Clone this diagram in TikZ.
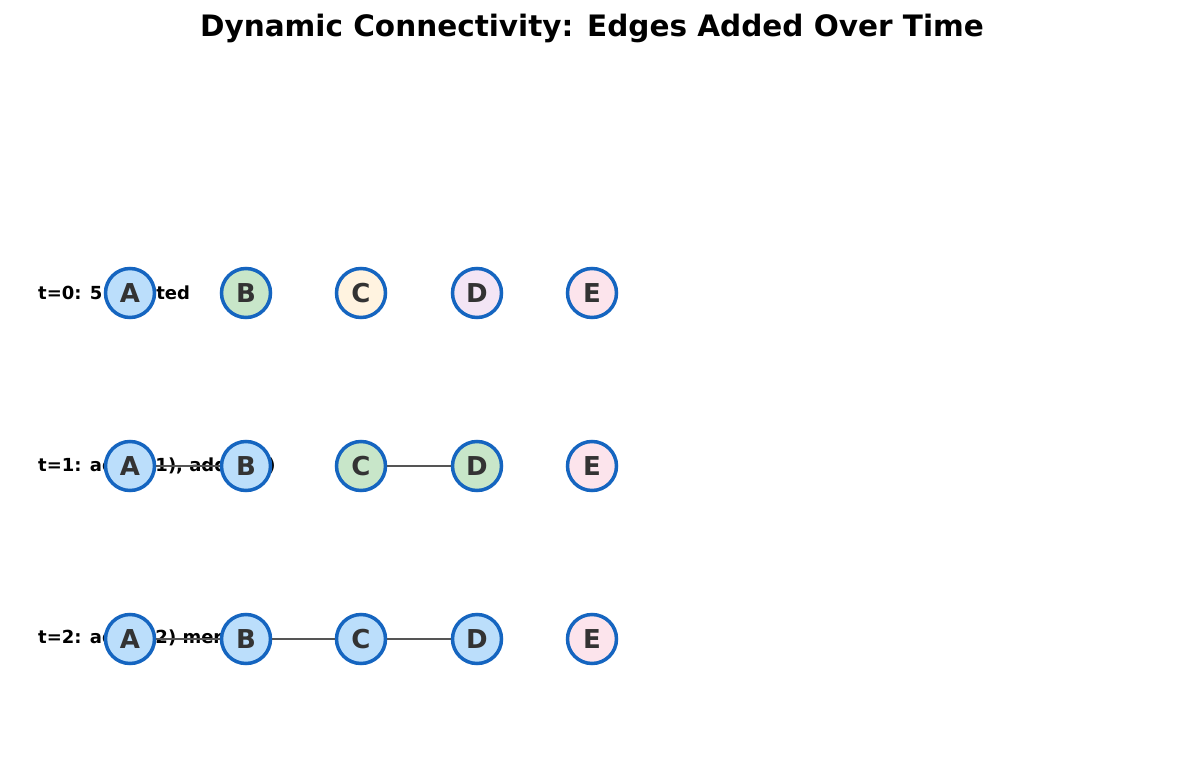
\documentclass[tikz,border=0pt]{standalone}
\usepackage{fontspec}
\setmainfont{DejaVu Sans}
\definecolor{bord}{HTML}{1565C0}
\definecolor{fb}{HTML}{BBDEFB}
\definecolor{fg}{HTML}{C8E6C9}
\definecolor{fy}{HTML}{FFF3E0}
\definecolor{fp}{HTML}{F3E5F5}
\definecolor{fk}{HTML}{FCE4EC}
\definecolor{txt}{HTML}{333333}
\definecolor{edge}{HTML}{555555}
\begin{document}
\begin{tikzpicture}[x=1pt,y=-1pt,
  vtx/.style={circle,draw=bord,line width=3.5pt,minimum size=49pt,inner sep=0pt,font=\fontsize{26}{26}\selectfont\bfseries,text=txt},
  lbl/.style={anchor=west,font=\fontsize{18}{18}\selectfont\bfseries,inner sep=0pt},
  con/.style={draw=edge,line width=2.5pt}]
\path[use as bounding box] (0,0) rectangle (1185,770);
\node[font=\fontsize{29.5}{29.5}\selectfont\bfseries] (title) at (592,28) {Dynamic Connectivity: Edges Added Over Time};
\node[lbl] (l0) at (38,293) {t=0: 5 isolated};
\node[lbl] (l1) at (38,466) {t=1: add(0,1), add(2,3)};
\node[lbl] (l2) at (38,639) {t=2: add(1,2) merges};
\foreach \r/\y/\ca/\cb/\cc/\cd in {0/293/fb/fg/fy/fp, 1/466/fb/fb/fg/fg, 2/639/fb/fb/fb/fb}{
  \node[vtx,fill=\ca] (A\r) at (130,\y) {A};
  \node[vtx,fill=\cb] (B\r) at (246,\y) {B};
  \node[vtx,fill=\cc] (C\r) at (361,\y) {C};
  \node[vtx,fill=\cd] (D\r) at (477,\y) {D};
  \node[vtx,fill=fk] (E\r) at (592,\y) {E};
}
\draw[con] (A1) -- (B1);
\draw[con] (C1) -- (D1);
\draw[con] (A2) -- (B2);
\draw[con] (B2) -- (C2);
\draw[con] (C2) -- (D2);
\end{tikzpicture}
\end{document}
